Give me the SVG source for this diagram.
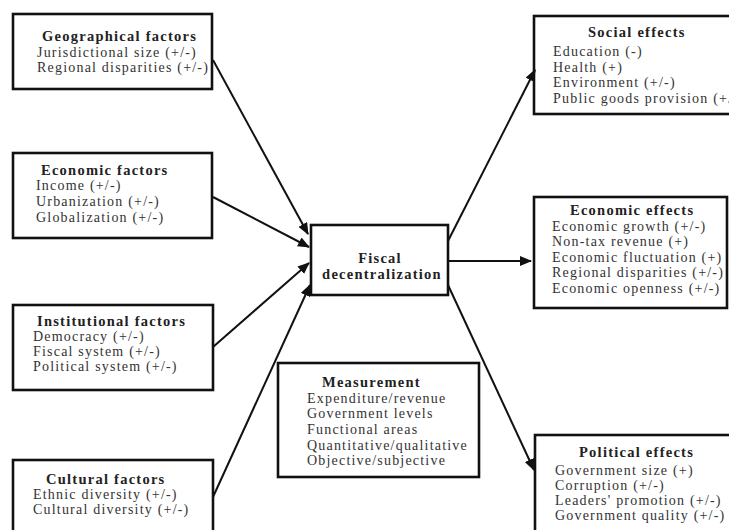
<svg xmlns="http://www.w3.org/2000/svg" width="729" height="530" viewBox="0 0 729 530">
<style>
.box{fill:#fff;stroke:#111;stroke-width:2.6}
.t{font-family:"Liberation Serif","Times New Roman",serif;font-size:14.5px;font-weight:bold;fill:#222;letter-spacing:1.25px}
.b{font-family:"Liberation Serif","Times New Roman",serif;font-size:14px;fill:#333;letter-spacing:1.2px}
.c line{stroke:#111;stroke-width:2;marker-end:url(#ah)}
</style>
<defs>
<marker id="ah" viewBox="0 0 12 10" refX="11" refY="5" markerWidth="12" markerHeight="10" markerUnits="userSpaceOnUse" orient="auto">
<path d="M0,0 L12,5 L0,10 z" fill="#111"/>
</marker>
</defs>
<rect width="729" height="530" fill="#fff"/>
<g id="geo">
<rect class="box" x="13" y="14" width="199" height="75"/>
<text class="t" x="42" y="41">Geographical factors</text>
<text class="b" x="37" y="57">Jurisdictional size (+/-)</text>
<text class="b" x="37" y="72">Regional disparities (+/-)</text>
</g>
<g id="eco">
<rect class="box" x="13" y="153" width="199" height="85"/>
<text class="t" x="41" y="175">Economic factors</text>
<text class="b" x="36" y="190">Income (+/-)</text>
<text class="b" x="36" y="206">Urbanization (+/-)</text>
<text class="b" x="36" y="222">Globalization (+/-)</text>
</g>
<g id="inst">
<rect class="box" x="13" y="305" width="200" height="85"/>
<text class="t" x="37" y="326">Institutional factors</text>
<text class="b" x="33" y="341">Democracy (+/-)</text>
<text class="b" x="33" y="356">Fiscal system (+/-)</text>
<text class="b" x="33" y="371">Political system (+/-)</text>
</g>
<g id="cult">
<rect class="box" x="13" y="460" width="200" height="80"/>
<text class="t" x="46" y="484">Cultural factors</text>
<text class="b" x="33" y="499">Ethnic diversity (+/-)</text>
<text class="b" x="33" y="514">Cultural diversity (+/-)</text>
</g>
<g id="fiscal">
<rect class="box" x="311" y="225" width="137" height="70"/>
<text class="t" x="380" y="263" text-anchor="middle">Fiscal</text>
<text class="t" x="382" y="279" text-anchor="middle">decentralization</text>
</g>
<g id="meas">
<rect class="box" x="278" y="363" width="201" height="114"/>
<text class="t" x="322" y="387">Measurement</text>
<text class="b" x="307" y="403">Expenditure/revenue</text>
<text class="b" x="307" y="418">Government levels</text>
<text class="b" x="307" y="434">Functional areas</text>
<text class="b" x="307" y="450">Quantitative/qualitative</text>
<text class="b" x="307" y="465">Objective/subjective</text>
</g>
<g id="social">
<rect class="box" x="534" y="16" width="210" height="98"/>
<text class="t" x="588" y="37">Social effects</text>
<text class="b" x="553" y="56">Education (-)</text>
<text class="b" x="553" y="72">Health (+)</text>
<text class="b" x="553" y="87">Environment (+/-)</text>
<text class="b" x="553" y="103">Public goods provision (+/-)</text>
</g>
<g id="ecoeff">
<rect class="box" x="534" y="197" width="193" height="111"/>
<text class="t" x="570" y="215">Economic effects</text>
<text class="b" x="552" y="231">Economic growth (+/-)</text>
<text class="b" x="552" y="246">Non-tax revenue (+)</text>
<text class="b" x="552" y="262">Economic fluctuation (+)</text>
<text class="b" x="552" y="277">Regional disparities (+/-)</text>
<text class="b" x="552" y="293">Economic openness (+/-)</text>
</g>
<g id="pol">
<rect class="box" x="535" y="435" width="210" height="105"/>
<text class="t" x="579" y="457">Political effects</text>
<text class="b" x="555" y="475">Government size (+)</text>
<text class="b" x="555" y="490">Corruption (+/-)</text>
<text class="b" x="555" y="505">Leaders' promotion (+/-)</text>
<text class="b" x="555" y="520">Government quality (+/-)</text>
</g>
<g class="c" id="connectors">
<line x1="213" y1="60" x2="308" y2="234"/>
<line x1="213" y1="197" x2="309" y2="247"/>
<line x1="213" y1="347" x2="309" y2="263"/>
<line x1="213" y1="497" x2="310" y2="285"/>
<line x1="448" y1="241" x2="535" y2="70"/>
<line x1="448" y1="261" x2="531" y2="261"/>
<line x1="448" y1="285" x2="534" y2="470"/>
</g>
</svg>
